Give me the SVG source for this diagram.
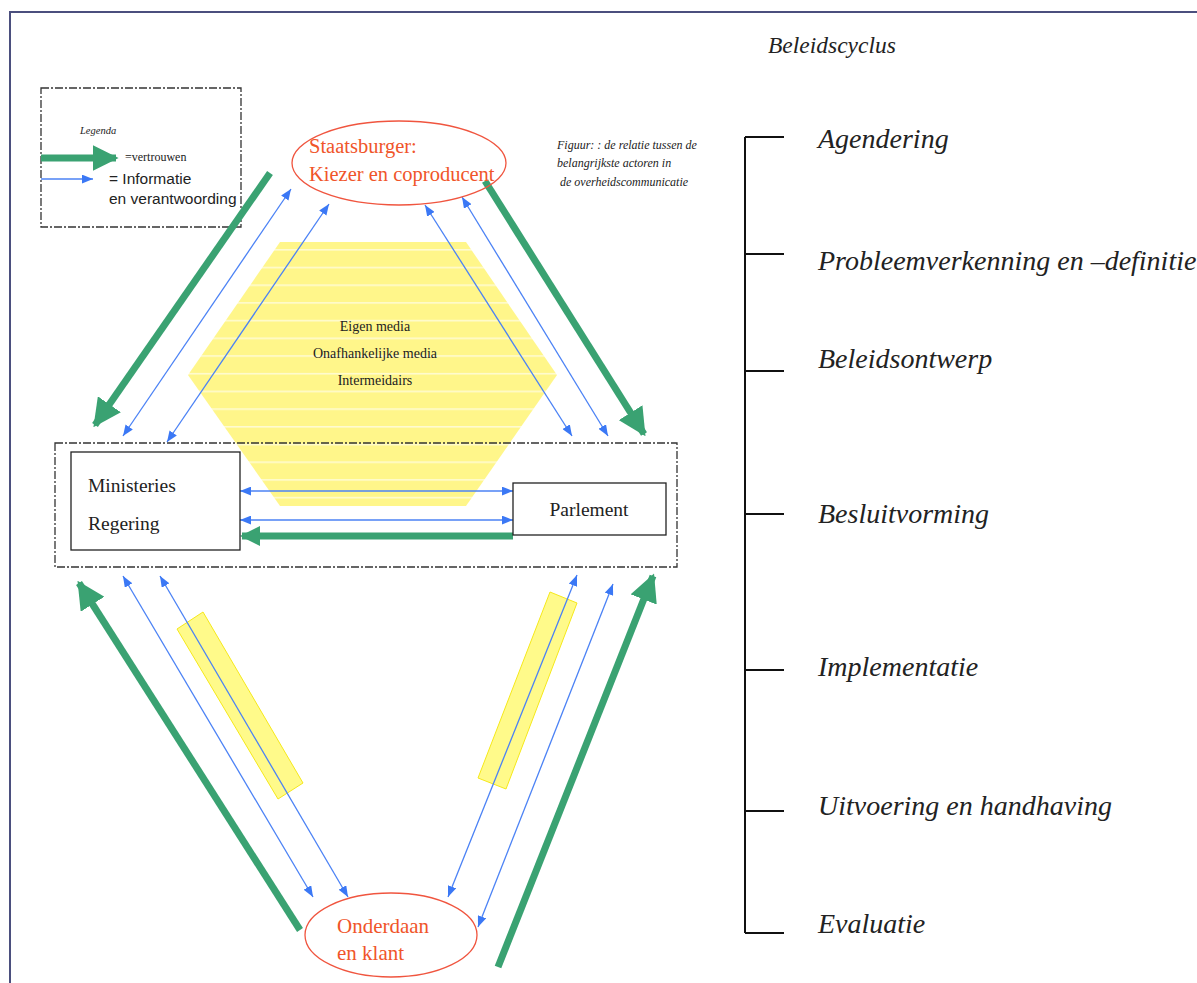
<svg xmlns="http://www.w3.org/2000/svg" width="1197" height="983" viewBox="0 0 1197 983">
<style>
.serif{font-family:"Liberation Serif",serif}
.it{font-family:"Liberation Serif",serif;font-style:italic;fill:#222}
.sans{font-family:"Liberation Sans",sans-serif}
.blue{stroke:#4b82f5;stroke-width:1.3;fill:none}
.green{stroke:#3aa272;stroke-width:7;fill:none}
.dash{fill:none;stroke:#333;stroke-width:1.3;stroke-dasharray:8 2 2 2}
.red{fill:#fff;stroke:#f0553f;stroke-width:1.3}
.redt{font-family:"Liberation Serif",serif;fill:#f0552a}
.box{fill:#fff;stroke:#222;stroke-width:1.3}
.tick{stroke:#111;stroke-width:2;fill:none}
.cyc{font-family:"Liberation Serif",serif;font-style:italic;font-size:28px;fill:#222}
</style>
<defs>
<marker id="bh" viewBox="0 0 10 8" refX="10" refY="4" markerWidth="11" markerHeight="9" markerUnits="userSpaceOnUse" orient="auto-start-reverse"><path d="M0,0 L10,4 L0,8 Z" fill="#3b78f5"/></marker>
<marker id="gh" viewBox="0 0 10 10" refX="9" refY="5" markerWidth="28" markerHeight="28" markerUnits="userSpaceOnUse" orient="auto"><path d="M0,0 L10,5 L0,10 Z" fill="#3aa272"/></marker>
<marker id="gh2" viewBox="0 0 10 10" refX="9" refY="5" markerWidth="20" markerHeight="20" markerUnits="userSpaceOnUse" orient="auto"><path d="M0,0 L10,5 L0,10 Z" fill="#3aa272"/></marker>
<marker id="gh3" viewBox="0 0 10 10" refX="9" refY="5" markerWidth="26" markerHeight="26" markerUnits="userSpaceOnUse" orient="auto"><path d="M0,0 L10,5 L0,10 Z" fill="#3aa272"/></marker>
<pattern id="stripes" patternUnits="userSpaceOnUse" x="0" y="249" width="20" height="17.7"><rect width="20" height="17.7" fill="#fff68a"/><rect y="0" width="20" height="1.6" fill="#fffbd0"/></pattern>
</defs>
<rect width="1197" height="983" fill="#fff"/>
<path d="M10,983 V12 H1197" fill="none" stroke="#4b4f7e" stroke-width="2"/>

<g id="media">
<polygon points="280,242 466,242 557,375 466,506 280,506 188,375" fill="url(#stripes)"/>
<text class="serif" font-size="14" text-anchor="middle" x="375" y="331" fill="#222">Eigen media</text>
<text class="serif" font-size="14" text-anchor="middle" x="375" y="358" fill="#222">Onafhankelijke media</text>
<text class="serif" font-size="14" text-anchor="middle" x="375" y="385" fill="#222">Intermeidairs</text>
</g>

<g id="media-strips">
<polygon points="177,629 203,612 303,783 278,799" fill="#fffa8a" stroke="#f5e81a" stroke-width="1"/>
<polygon points="550,592 577,603 506,789 478,778" fill="#fffa8a" stroke="#f5e81a" stroke-width="1"/>
</g>

<g id="legend">
<rect class="dash" x="41" y="88" width="200" height="139"/>
<text class="it" font-size="10.5" x="80" y="134">Legenda</text>
<line class="green" x1="41" y1="158" x2="116" y2="158" stroke-width="8" marker-end="url(#gh3)"/>
<text class="serif" font-size="12" x="125" y="161" fill="#222">=vertrouwen</text>
<line class="blue" x1="41" y1="179" x2="93" y2="179" marker-end="url(#bh)"/>
<text class="sans" font-size="15.5" x="109" y="184" fill="#222">= Informatie</text>
<text class="sans" font-size="15.5" x="109" y="204" fill="#222">en verantwoording</text>
</g>

<g id="caption">
<text class="it" font-size="12" x="557" y="149">Figuur: : de relatie tussen de</text>
<text class="it" font-size="12" x="557" y="167">belangrijkste actoren in</text>
<text class="it" font-size="12" x="560" y="186"> de overheidscommunicatie</text>
</g>

<g id="overheid">
<rect class="dash" x="55" y="443" width="622" height="124"/>
</g>

<g id="connectors">
<line class="green" x1="270" y1="173" x2="95" y2="425" marker-end="url(#gh)"/>
<line class="blue" x1="291" y1="189" x2="123" y2="436" marker-start="url(#bh)" marker-end="url(#bh)"/>
<line class="blue" x1="329" y1="204" x2="167" y2="442" marker-start="url(#bh)" marker-end="url(#bh)"/>
<line class="green" x1="485" y1="181" x2="644" y2="434" marker-end="url(#gh)"/>
<line class="blue" x1="425" y1="205" x2="572" y2="436" marker-start="url(#bh)" marker-end="url(#bh)"/>
<line class="blue" x1="462" y1="197" x2="608" y2="436" marker-start="url(#bh)" marker-end="url(#bh)"/>
<line class="blue" x1="240" y1="491" x2="513" y2="491" marker-start="url(#bh)" marker-end="url(#bh)"/>
<line class="blue" x1="240" y1="520" x2="513" y2="520" marker-start="url(#bh)" marker-end="url(#bh)"/>
<line class="green" x1="513" y1="536" x2="242" y2="536" marker-end="url(#gh2)"/>
<line class="green" x1="300" y1="930" x2="79" y2="583" marker-end="url(#gh)"/>
<line class="blue" x1="123" y1="576" x2="313" y2="897" marker-start="url(#bh)" marker-end="url(#bh)"/>
<line class="blue" x1="160" y1="576" x2="348" y2="897" marker-start="url(#bh)" marker-end="url(#bh)"/>
<line class="green" x1="498" y1="967" x2="653" y2="576" marker-end="url(#gh)"/>
<line class="blue" x1="577" y1="575" x2="448" y2="897" marker-start="url(#bh)" marker-end="url(#bh)"/>
<line class="blue" x1="613" y1="584" x2="478" y2="927" marker-start="url(#bh)" marker-end="url(#bh)"/>
</g>

<g id="staatsburger">
<ellipse class="red" cx="399" cy="163" rx="107" ry="42" fill-opacity="0"/>
<text class="redt" font-size="20.5" x="309" y="153">Staatsburger:</text>
<text class="redt" font-size="20.5" x="309" y="181">Kiezer en coproducent</text>
</g>

<g id="ministeries">
<rect class="box" x="71" y="452" width="169" height="98"/>
<text class="serif" font-size="19.5" x="88" y="492" fill="#222">Ministeries</text>
<text class="serif" font-size="19.5" x="88" y="530" fill="#222">Regering</text>
</g>

<g id="parlement">
<rect class="box" x="513" y="483" width="153" height="52"/>
<text class="serif" font-size="19.5" text-anchor="middle" x="589" y="516" fill="#222">Parlement</text>
</g>

<g id="onderdaan">
<ellipse class="red" cx="391" cy="935" rx="86" ry="42"/>
<text class="redt" font-size="21" x="337" y="933">Onderdaan</text>
<text class="redt" font-size="21" x="337" y="960">en klant</text>
</g>

<g id="beleidscyclus">
<text class="it" font-size="23.5" x="768" y="53">Beleidscyclus</text>
<path class="tick" d="M745,137 V933 M745,137 H784 M745,254 H784 M745,371 H784 M745,514 H784 M745,670 H784 M745,811 H784 M745,933 H784"/>
<text class="cyc" x="818" y="148">Agendering</text>
<text class="cyc" x="818" y="270">Probleemverkenning en  –definitie</text>
<text class="cyc" x="818" y="368">Beleidsontwerp</text>
<text class="cyc" x="818" y="523">Besluitvorming</text>
<text class="cyc" x="818" y="676">Implementatie</text>
<text class="cyc" x="818" y="815">Uitvoering en handhaving</text>
<text class="cyc" x="818" y="933">Evaluatie</text>
</g>
</svg>
